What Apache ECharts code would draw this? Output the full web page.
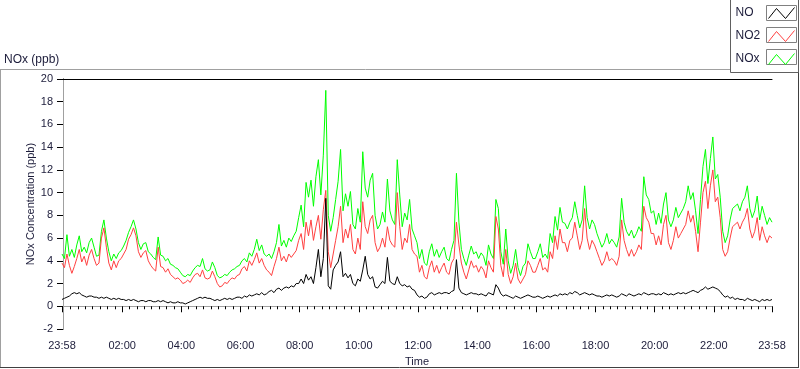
<!DOCTYPE html>
<html><head><meta charset="utf-8">
<script src="https://cdn.jsdelivr.net/npm/echarts@6/dist/echarts.min.js"></script>
<style>html,body{margin:0;padding:0;background:#fff}#c{width:800px;height:369px}</style>
</head><body><div id="c"></div>
<script>
// Sampling: minutes after 00:00 (start 23:58 of previous day), every 5 minutes
const START_MINUTE = -2;
const STEP_MINUTES = 5;

const NOX_VALUES = [
 4.6,4.2,6.3,4.4,5.0,4.3,5.4,6.2,4.8,5.2,4.7,5.6,
 6.0,5.2,4.4,4.5,6.6,7.6,6.0,4.8,4.0,4.6,4.2,4.7,
 4.9,5.3,5.8,6.5,7.0,7.6,6.8,5.6,5.0,5.5,5.6,4.8,
 4.6,4.3,4.1,6.1,4.5,4.4,4.0,4.2,3.7,3.6,3.4,3.3,
 3.0,2.7,2.6,2.8,2.7,3.1,3.4,3.6,3.5,4.2,3.3,3.1,
 3.2,3.9,3.4,2.7,2.5,2.6,2.8,2.7,3.0,3.2,3.3,3.5,
 3.6,4.0,4.2,3.9,4.7,4.4,5.0,5.9,4.9,5.4,4.6,4.4,
 4.6,4.2,4.8,5.6,7.2,5.3,5.8,5.2,6.0,5.7,6.2,6.6,
 7.8,8.9,7.0,10.9,9.6,11.1,8.8,11.4,12.9,9.8,13.3,19.0,
 8.0,6.6,7.8,9.4,11.0,13.8,8.4,9.9,8.8,10.1,7.2,6.8,
 8.6,7.4,13.6,10.4,9.6,11.1,11.7,8.0,6.8,7.2,8.3,7.4,
 11.2,8.4,7.6,7.2,12.9,9.8,7.0,8.2,7.6,9.4,6.8,6.2,
 5.6,4.2,5.0,3.8,3.6,4.8,5.5,4.4,5.0,4.3,4.8,5.2,
 4.2,4.0,5.0,5.8,11.7,7.4,5.0,4.2,3.6,4.5,5.3,4.6,
 4.8,4.2,4.7,4.4,3.6,5.4,4.6,4.2,9.4,8.6,4.8,3.7,
 6.8,4.0,2.9,3.6,5.0,3.4,2.7,3.5,3.8,5.5,4.8,4.2,
 4.2,4.8,5.5,4.3,4.6,4.2,6.4,5.6,7.9,6.7,8.7,7.4,
 7.3,6.8,7.4,7.8,9.2,8.0,6.9,7.6,10.6,7.8,6.8,7.6,
 7.2,6.4,5.8,5.2,5.6,6.4,5.5,5.9,5.6,5.2,6.1,9.5,
 7.4,6.6,6.2,6.7,6.0,6.4,7.0,6.6,11.4,9.8,9.4,8.2,
 8.4,7.2,8.2,7.3,9.0,10.0,7.6,7.0,7.6,8.7,7.8,8.2,
 8.6,9.2,10.6,9.4,10.0,8.4,6.4,9.4,12.3,13.8,10.8,13.0,
 14.9,11.2,11.6,9.6,6.6,5.6,6.2,7.6,8.6,8.8,9.0,8.4,
 9.2,9.6,10.6,8.6,7.8,8.4,9.7,7.6,8.8,8.0,7.2,7.8,7.4
];

const NO2_VALUES = [
 3.8,3.4,4.6,3.6,2.9,3.5,4.2,5.0,3.9,4.4,3.6,4.5,
 5.0,4.2,3.6,3.8,6.0,6.9,5.2,3.8,3.2,4.0,3.4,4.0,
 4.2,4.6,5.0,5.9,6.3,6.9,6.2,4.8,4.3,4.7,4.9,4.0,
 3.6,3.3,3.1,5.2,3.5,3.4,3.0,3.3,2.8,2.6,2.4,2.5,
 2.3,2.0,2.1,2.3,2.1,2.5,2.8,2.9,2.6,3.2,2.5,2.4,
 2.5,3.1,2.6,2.0,1.7,1.8,2.1,2.0,2.3,2.5,2.4,2.7,
 2.8,3.3,3.5,3.1,4.0,3.6,4.1,4.7,3.8,4.2,3.6,3.2,
 3.0,2.7,3.5,4.2,5.2,4.0,4.4,3.9,4.6,4.3,4.6,4.9,
 5.8,6.4,5.0,7.4,6.2,7.6,5.8,7.0,8.0,5.9,8.5,10.2,
 4.8,3.4,4.6,5.8,7.0,8.8,5.6,6.8,6.0,7.2,5.0,4.6,
 6.0,5.0,9.2,7.0,6.4,7.6,8.0,5.6,4.8,5.2,6.0,5.2,
 7.0,5.8,5.4,5.2,10.0,7.0,5.0,6.0,5.6,7.2,5.0,4.6,
 4.4,3.0,3.6,2.6,2.4,3.4,4.0,3.0,3.6,2.9,3.4,3.8,
 3.0,2.8,3.8,4.2,7.4,5.4,3.8,3.0,2.4,3.2,4.0,3.4,
 3.6,3.0,3.5,3.2,2.5,4.0,3.4,3.0,7.9,6.8,3.6,2.6,
 5.0,2.8,2.0,2.6,3.8,2.4,2.0,2.4,2.8,4.0,3.6,3.0,
 3.0,3.6,4.2,3.2,3.4,3.0,4.8,4.2,6.2,5.0,6.8,5.6,
 5.6,4.8,5.8,6.0,7.4,6.2,5.0,5.8,8.6,6.0,5.0,5.8,
 5.4,4.8,4.2,3.6,4.0,4.8,4.0,4.2,4.0,3.6,4.4,7.6,
 5.8,5.0,4.4,5.0,4.4,4.8,5.4,5.0,8.8,7.8,7.4,6.4,
 6.4,5.4,6.2,5.4,7.2,8.0,5.6,5.0,5.8,7.0,6.0,6.4,
 6.8,7.2,8.4,7.4,8.0,6.6,4.8,7.4,10.0,11.0,8.6,10.6,
 12.0,9.2,9.6,7.8,5.0,4.4,4.8,6.0,7.0,7.2,7.4,6.8,
 7.4,7.8,8.6,6.8,6.0,6.6,7.8,5.8,7.0,6.2,5.6,6.2,6.0
];

const NO_VALUES = [
 0.6,0.7,0.8,0.9,1.1,1.2,1.1,1.2,1.0,0.9,0.8,0.9,
 0.9,0.8,0.8,0.7,0.8,0.7,0.8,0.7,0.6,0.7,0.6,0.7,
 0.6,0.6,0.5,0.6,0.5,0.6,0.5,0.4,0.5,0.5,0.4,0.5,
 0.5,0.4,0.4,0.5,0.4,0.5,0.4,0.3,0.4,0.3,0.3,0.4,
 0.3,0.3,0.2,0.3,0.4,0.5,0.6,0.7,0.8,0.7,0.8,0.7,
 0.7,0.6,0.5,0.6,0.5,0.6,0.7,0.6,0.7,0.6,0.7,0.8,
 0.8,0.7,0.9,0.8,1.0,0.9,1.0,1.1,1.0,1.2,1.0,1.1,
 1.3,1.4,1.2,1.5,1.6,1.4,1.6,1.7,1.6,1.8,1.7,2.0,
 2.0,2.4,2.0,2.8,2.3,2.6,2.0,3.4,5.0,2.6,4.2,9.5,
 1.8,1.5,3.2,3.6,3.9,4.8,2.6,2.9,2.5,2.8,2.0,1.8,
 2.4,2.2,3.2,4.4,2.8,2.4,2.6,1.7,1.6,1.9,2.2,2.0,
 4.3,2.2,2.0,1.9,2.6,2.0,1.8,1.9,1.7,1.8,1.5,1.4,
 1.0,0.8,0.9,0.7,0.8,1.1,1.2,1.0,1.1,1.2,1.1,1.2,
 1.2,1.1,1.3,1.4,4.1,1.6,1.2,1.1,1.0,1.1,1.2,1.1,
 1.1,1.0,1.1,1.0,0.9,1.2,1.1,1.0,1.9,1.6,1.1,0.9,
 1.0,0.9,0.8,0.7,0.9,0.8,0.7,0.8,0.9,1.0,0.9,0.8,
 0.8,0.9,0.8,0.7,0.8,0.9,0.8,0.9,1.0,0.9,1.1,1.0,
 1.1,1.0,1.2,1.1,1.3,1.2,1.0,1.1,1.2,1.1,1.0,1.1,
 1.0,0.9,0.9,0.8,0.9,1.0,0.9,1.0,0.9,0.8,0.9,1.1,
 1.0,0.9,1.1,1.0,0.9,1.0,1.1,1.0,1.2,1.1,1.0,1.1,
 1.1,1.0,1.1,1.0,1.2,1.1,1.0,1.1,1.0,1.1,1.2,1.1,
 1.2,1.1,1.2,1.3,1.4,1.3,1.2,1.4,1.5,1.7,1.5,1.6,
 1.7,1.6,1.5,1.3,1.0,0.8,0.9,0.7,0.8,0.6,0.7,0.6,
 0.6,0.5,0.7,0.6,0.5,0.6,0.5,0.4,0.6,0.5,0.6,0.5,0.6
];

const X_TICK_MINUTES = [-2,120,240,360,480,600,720,840,960,1080,1200,1320,1438];
const X_TICK_LABELS = ['23:58','02:00','04:00','06:00','08:00','10:00','12:00','14:00','16:00','18:00','20:00','22:00','23:58'];
const Y_MIN = -2, Y_MAX = 20, Y_STEP = 2;
const SERIES_NAMES = ['NO','NO2','NOx'];
const SERIES_COLORS = ['#000000','#ff4040','#00ff00'];

const FONT = 'Liberation Sans';
const TXT = '#1c1c3a';

function toPairs(vals){ return vals.map((v,i)=>[START_MINUTE + i*STEP_MINUTES, v]); }
const minorTicks = [];
for (let m = 15; m < 1438; m += 15) { if (m % 120 !== 0) minorTicks.push(m); }

const chart = echarts.init(document.getElementById('c'), null, {renderer:'canvas'});
const xMin = X_TICK_MINUTES[0], xMax = X_TICK_MINUTES[X_TICK_MINUTES.length-1];

chart.setOption({
  animation:false,
  backgroundColor:'#ffffff',
  title:{text:'NOx (ppb)', left:4, top:54, padding:0, textStyle:{fontFamily:FONT,fontSize:12,fontWeight:'normal',color:TXT}},
  grid:{left:62, right:28, top:79, bottom:40, containLabel:false, outerBoundsMode:'none'},
  legend:{
    orient:'vertical', right:5, top:7, padding:0, itemGap:11, itemWidth:26, itemHeight:11,
    align:'right', selectedMode:false,
    icon:'path://M0,11 L8,1 L17,11 L26,0',
    formatter:'{t|{name}}',
    textStyle:{color:TXT, fontFamily:FONT, fontSize:12, rich:{t:{width:28, align:'left', fontFamily:FONT, fontSize:12, lineHeight:11, color:TXT}}},
    data: SERIES_NAMES.map((n,i)=>({name:n, itemStyle:{color:'rgba(0,0,0,0)', borderColor:SERIES_COLORS[i], borderWidth:1}}))
  },
  xAxis:[
    {type:'value', position:'bottom', min:xMin, max:xMax,
     name:'Time', nameLocation:'middle', nameGap:27, nameMoveOverlap:false, nameTextStyle:{fontFamily:FONT,fontSize:11,color:TXT},
     axisLine:{show:true, lineStyle:{color:'#a0a0a0', width:1}},
     axisTick:{show:true, length:6, customValues:X_TICK_MINUTES, lineStyle:{color:'#000'}},
     axisLabel:{show:true, customValues:X_TICK_MINUTES, margin:11, fontFamily:FONT, fontSize:11, color:TXT,
       formatter:(v)=>{ const i = X_TICK_MINUTES.indexOf(Math.round(v)); return i>=0 ? X_TICK_LABELS[i] : ''; }},
     splitLine:{show:false}, minorTick:{show:false}},
    {type:'value', position:'bottom', min:xMin, max:xMax,
     axisLine:{show:false}, axisTick:{show:true, length:3, customValues:minorTicks, lineStyle:{color:'#000'}},
     axisLabel:{show:false}, splitLine:{show:false}},
    {type:'value', position:'top', min:xMin, max:xMax,
     axisLine:{show:true, lineStyle:{color:'#000', width:1}}, axisTick:{show:false}, axisLabel:{show:false}, splitLine:{show:false}}
  ],
  yAxis:[
    {type:'value', position:'left', min:Y_MIN, max:Y_MAX, interval:Y_STEP,
     name:'NOx Concentration (ppb)', nameLocation:'middle', nameGap:26, nameRotate:90, nameMoveOverlap:false,
     nameTextStyle:{fontFamily:FONT,fontSize:11,color:TXT},
     axisLine:{show:true, lineStyle:{color:'#000', width:1}},
     axisTick:{show:true, length:6, lineStyle:{color:'#000'}},
     axisLabel:{show:true, margin:9, fontFamily:FONT, fontSize:11, color:TXT},
     splitLine:{show:false}},
    {type:'value', position:'right', min:Y_MIN, max:Y_MAX, interval:Y_STEP,
     axisLine:{show:true, lineStyle:{color:'#a0a0a0', width:1}}, axisTick:{show:false}, axisLabel:{show:false}, splitLine:{show:false}}
  ],
  series:[
    {name:'NOx', type:'line', data:toPairs(NOX_VALUES), symbol:'none', showSymbol:false, z:2,
     lineStyle:{width:1, color:SERIES_COLORS[2]}, itemStyle:{color:SERIES_COLORS[2]}},
    {name:'NO2', type:'line', data:toPairs(NO2_VALUES), symbol:'none', showSymbol:false, z:3,
     lineStyle:{width:1, color:SERIES_COLORS[1]}, itemStyle:{color:SERIES_COLORS[1]}},
    {name:'NO', type:'line', data:toPairs(NO_VALUES), symbol:'none', showSymbol:false, z:4,
     lineStyle:{width:1, color:SERIES_COLORS[0]}, itemStyle:{color:SERIES_COLORS[0]}}
  ],
  graphic:[
    {type:'line', shape:{x1:0, y1:69.5, x2:731, y2:69.5}, style:{stroke:'#a0a0a0', lineWidth:1}},
    {type:'line', shape:{x1:0.5, y1:69.5, x2:0.5, y2:368}, style:{stroke:'#a0a0a0', lineWidth:1}},
    {type:'line', shape:{x1:0, y1:367.5, x2:799, y2:367.5}, style:{stroke:'#404040', lineWidth:1}},
    {type:'line', shape:{x1:798.5, y1:72, x2:798.5, y2:368}, style:{stroke:'#404040', lineWidth:1}},
    {type:'rect', shape:{x:730.5, y:-1, width:68, height:73.5}, style:{fill:'none', stroke:'#606060', lineWidth:1}},
    {type:'rect', shape:{x:766.5, y:5.5, width:30, height:15}, style:{fill:'none', stroke:'#808080', lineWidth:1}},
    {type:'rect', shape:{x:766.5, y:27.5, width:30, height:15}, style:{fill:'none', stroke:'#808080', lineWidth:1}},
    {type:'rect', shape:{x:766.5, y:49.5, width:30, height:15}, style:{fill:'none', stroke:'#808080', lineWidth:1}}
  ]
});
</script></body></html>
